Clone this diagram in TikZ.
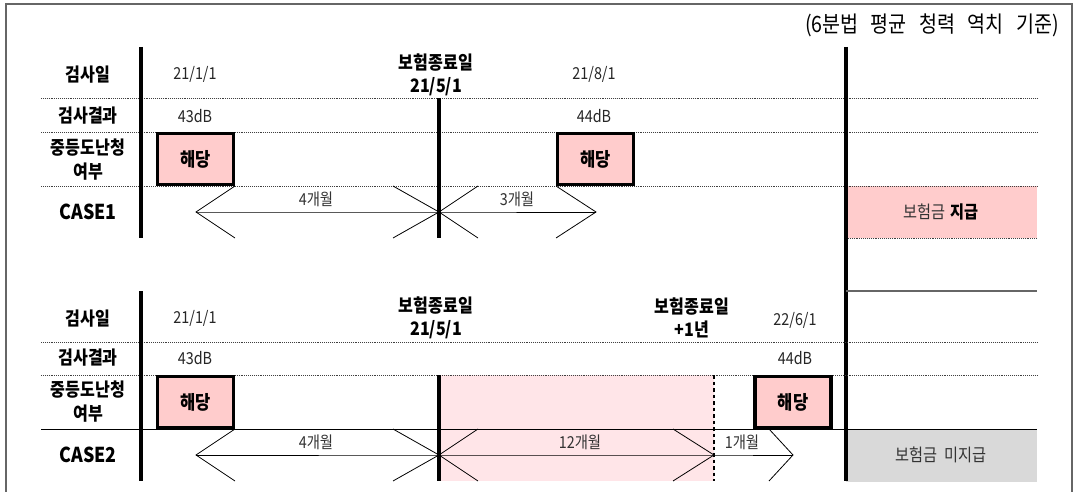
\documentclass[tikz,border=0pt]{standalone}
\usepackage{fontspec}
\setmainfont{Noto Sans CJK KR}[FakeStretch=0.87]
\definecolor{hitpink}{HTML}{FFCCCC}
\definecolor{spanpink}{HTML}{FFE5E8}
\definecolor{nopaygray}{HTML}{D9D9D9}
\tikzset{
  rowlabel/.style={font=\fontsize{18.5}{24}\selectfont\bfseries, align=center, inner sep=0pt},
  caselabel/.style={font=\fontsize{20.5}{22}\selectfont\bfseries, inner sep=0pt},
  datetext/.style={font=\fontsize{16.5}{18}\selectfont, text=black!85, inner sep=0pt},
  endtext/.style={font=\fontsize{18.5}{23}\selectfont\bfseries, align=center, inner sep=0pt},
  monthtext/.style={font=\fontsize{16.5}{18}\selectfont, text=black!80, inner sep=0pt},
  gridline/.style={densely dotted, black!75, line width=0.9pt},
  timebar/.style={line width=3.2pt},
  spanline/.style={line width=0.8pt},
  hitbox/.style={draw, line width=3.2pt, fill=hitpink, minimum width=76pt, minimum height=51pt,
    inner sep=0pt, font=\fontsize{19}{20}\selectfont\bfseries}
}
\begin{document}
\begin{tikzpicture}[x=1pt, y=-1pt, >=stealth]
  \useasboundingbox (0,0) rectangle (1074,492);
  \fill[white] (0,0) rectangle (1074,492);

  % frame and title
  \draw[black!60, line width=1.6pt] (6,492) -- (6,4) -- (1072,4) -- (1072,492);
  \node[anchor=east, inner sep=0pt, font=\fontsize{22.5}{24}\selectfont] (title) at (1059,25)
    {(6분법\hspace{.55em}평균\hspace{.55em}청력\hspace{.55em}역치\hspace{.55em}기준)};

  % backgrounds
  \fill[hitpink] (846,186) rectangle (1037,238);
  \fill[spanpink] (439,375) rectangle (714,481);
  \fill[nopaygray] (846,429) rectangle (1037,482);

  % ---------------- CASE1 ----------------
  \draw[gridline] (41,98) -- (1037,98);
  \draw[gridline] (41,132) -- (1037,132);
  \draw[gridline] (41,186) -- (1037,186);
  \draw[gridline] (846,238) -- (1037,238);

  \draw[timebar] (141,47) -- (141,238);
  \draw[timebar] (439,98) -- (439,238);

  \node[rowlabel] (day1) at (88,75) {검사일};
  \node[rowlabel] (res1) at (88,116) {검사결과};
  \node[rowlabel] (mid1) at (88,160) {중등도난청\\여부};
  \node[caselabel] (case1) at (88,212) {CASE1};

  \node[datetext] (d1a) at (195,74) {21/1/1};
  \node[endtext] (end1) at (436,75) {보험종료일\\21/5/1};
  \node[datetext] (d1b) at (594,74) {21/8/1};
  \node[datetext] (r1a) at (195,116) {43dB};
  \node[datetext] (r1b) at (594,116) {44dB};

  \node[hitbox] (hit1a) at (195.5,159) {해당};
  \node[hitbox] (hit1b) at (595.5,159) {해당};

  \coordinate (t1a) at (196,212);
  \coordinate (t1b) at (439,212);
  \coordinate (t1c) at (596,212);
  \draw[spanline] (t1a) -- (t1b) -- (t1c);
  \draw[spanline] ([shift={(39,-26)}]t1a) -- (t1a) -- ([shift={(39,26)}]t1a);
  \draw[spanline] ([shift={(-46,-26)}]t1b) -- (t1b) -- ([shift={(-46,26)}]t1b);
  \draw[spanline] ([shift={(39,-26)}]t1b) -- (t1b) -- ([shift={(39,26)}]t1b);
  \draw[spanline] ([shift={(-40,-26)}]t1c) -- (t1c) -- ([shift={(-40,26)}]t1c);
  \node[monthtext] (m1a) at (316,199) {4개월};
  \node[monthtext] (m1b) at (517,199) {3개월};

  \node[font=\fontsize{17.5}{19}\selectfont, text=black!80, inner sep=0pt] (pay1) at (941,212)
    {보험금\hspace{.3em}\textcolor{black}{\bfseries 지급}};

  % right bar and separator
  \draw[timebar] (846,47) -- (846,481);
  \draw[black!60, line width=1.3pt] (846,291) -- (1037,291);

  % ---------------- CASE2 ----------------
  \draw[gridline] (41,342) -- (1037,342);
  \draw[gridline] (41,375) -- (1037,375);
  \draw[line width=0.9pt] (41,429) -- (1037,429);

  \draw[timebar] (141,291) -- (141,481);
  \draw[timebar] (439,375) -- (439,481);
  \draw[line width=2.6pt, dash pattern=on 3.5pt off 3pt] (714,375) -- (714,481);

  \node[rowlabel] (day2) at (88,319) {검사일};
  \node[rowlabel] (res2) at (88,358) {검사결과};
  \node[rowlabel] (mid2) at (88,402) {중등도난청\\여부};
  \node[caselabel] (case2) at (88,455) {CASE2};

  \node[datetext] (d2a) at (195,318) {21/1/1};
  \node[endtext] (end2) at (436,318) {보험종료일\\21/5/1};
  \node[endtext] (end2b) at (692,318) {보험종료일\\+1년};
  \node[datetext] (d2b) at (795,320) {22/6/1};
  \node[datetext] (r2a) at (195,358) {43dB};
  \node[datetext] (r2b) at (795,358) {44dB};

  \node[hitbox] (hit2a) at (195.5,402) {해당};
  \node[hitbox] (hit2b) at (793,402) {해당};

  \coordinate (t2a) at (196,455);
  \coordinate (t2b) at (439,455);
  \coordinate (t2c) at (714,455);
  \coordinate (t2d) at (793,455);
  \draw[spanline] (t2a) -- (t2b) -- (t2c) -- (t2d);
  \draw[spanline] ([shift={(39,-26)}]t2a) -- (t2a) -- ([shift={(39,26)}]t2a);
  \draw[spanline] ([shift={(-46,-26)}]t2b) -- (t2b) -- ([shift={(-46,26)}]t2b);
  \draw[spanline] ([shift={(39,-26)}]t2b) -- (t2b) -- ([shift={(39,26)}]t2b);
  \draw[spanline] ([shift={(-41,-26)}]t2c) -- (t2c) -- ([shift={(-41,26)}]t2c);
  \draw[spanline] ([shift={(-24,-26)}]t2d) -- (t2d) -- ([shift={(-24,26)}]t2d);
  \node[monthtext] (m2a) at (316,442) {4개월};
  \node[monthtext] (m2b) at (580,442) {12개월};
  \node[monthtext] (m2c) at (742,442) {1개월};

  \node[font=\fontsize{17.5}{19}\selectfont, text=black!80, inner sep=0pt] (pay2) at (941,455)
    {보험금\hspace{.4em}미지급};
\end{tikzpicture}
\end{document}
